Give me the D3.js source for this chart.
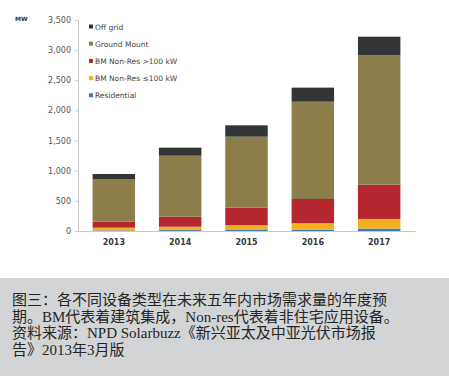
<!DOCTYPE html>
<html>
<head>
<meta charset="utf-8">
<script src="https://cdn.jsdelivr.net/npm/d3@7"></script>
<style>
  body { margin: 0; background: #fff; }
  #wrapper { width: 449px; height: 376px; position: relative; }
  .tick text { font-family: Verdana, "DejaVu Sans", sans-serif; }
</style>
</head>
<body>
<div id="wrapper"></div>
<script>
// data
const years = ['2013', '2014', '2015', '2016', '2017']
const seriesNames = ['Residential', 'BM Non-Res \u2264100 kW', 'BM Non-Res >100 kW', 'Ground Mount', 'Off grid']
const residential = [10, 15, 17, 20, 40]
const nonResSmall = [45, 56, 78, 108, 160]
const nonResLarge = [100, 166, 292, 403, 570]
const groundMount = [705, 1012, 1178, 1614, 2150]
const offGrid = [85, 133, 188, 233, 303]
const yTicks = [0, 500, 1000, 1500, 2000, 2500, 3000, 3500]
const captionLines = [
  '图三：各不同设备类型在未来五年内市场需求量的年度预',
  '期。BM代表着建筑集成，Non-res代表着非住宅应用设备。',
  '资料来源：NPD Solarbuzz《新兴亚太及中亚光伏市场报',
  '告》2013年3月版'
]

const colors = ['#3b79b8', '#f2b01e', '#b5282f', '#8b7e4b', '#323436']

const table = years.map((y, i) => ({
  year: y,
  [seriesNames[0]]: residential[i],
  [seriesNames[1]]: nonResSmall[i],
  [seriesNames[2]]: nonResLarge[i],
  [seriesNames[3]]: groundMount[i],
  [seriesNames[4]]: offGrid[i],
}))

// dimensions
let dimensions = {
  width: 449,
  height: 376,
  margin: { top: 20, left: 78, right: 34 },
  axisBottom: 231,
}
dimensions.boundedWidth = dimensions.width - dimensions.margin.left - dimensions.margin.right
dimensions.boundedHeight = dimensions.axisBottom - dimensions.margin.top

const svg = d3.select('#wrapper').append('svg')
  .attr('width', dimensions.width)
  .attr('height', dimensions.height)

const bounds = svg.append('g')
  .attr('transform', `translate(${dimensions.margin.left},${dimensions.margin.top})`)

// scales
const yScale = d3.scaleLinear()
  .domain([0, 3500])
  .range([dimensions.boundedHeight, 0])

const xScale = d3.scaleBand()
  .domain(years)
  .range([0, dimensions.boundedWidth])
  .paddingInner(0.36)
  .paddingOuter(0.22)

const colorScale = d3.scaleOrdinal().domain(seriesNames).range(colors)

const stacked = d3.stack().keys(seriesNames)(table)

// bars
bounds.selectAll('.series')
  .data(stacked)
  .enter().append('g')
  .attr('class', 'series')
  .attr('fill', d => colorScale(d.key))
  .selectAll('rect')
  .data(d => d)
  .enter().append('rect')
  .attr('x', d => xScale(d.data.year))
  .attr('width', xScale.bandwidth())
  .attr('y', d => yScale(d[1]))
  .attr('height', d => yScale(d[0]) - yScale(d[1]))

// axes
const yAxis = bounds.append('g')
  .call(d3.axisLeft(yScale).tickValues(yTicks).tickFormat(d3.format(',')).tickSize(3).tickPadding(4))
yAxis.select('.domain').attr('stroke', '#c8c8c8')
yAxis.selectAll('.tick line').attr('stroke', '#c8c8c8')
yAxis.selectAll('.tick text').attr('fill', '#555').style('font-size', '8px')

const xAxis = bounds.append('g')
  .attr('transform', `translate(0,${dimensions.boundedHeight})`)
  .call(d3.axisBottom(xScale).tickSize(0).tickPadding(8))
xAxis.select('.domain').attr('stroke', '#c8c8c8')
xAxis.selectAll('.tick text').attr('fill', '#3a3a3a').style('font-size', '8px').style('font-weight', '600')

svg.append('text')
  .attr('x', 15)
  .attr('y', 21)
  .text('MW')
  .style('font-family', 'Verdana, "DejaVu Sans", sans-serif')
  .style('font-size', '6px')
  .style('font-weight', 'bold')
  .attr('fill', '#333')

// legend
const legend = svg.append('g').attr('transform', 'translate(89,27)')
const legendOrder = seriesNames.slice().reverse()
const legendItems = legend.selectAll('g')
  .data(legendOrder)
  .enter().append('g')
  .attr('transform', (d, i) => `translate(0,${i * 17.2})`)
legendItems.append('rect')
  .attr('x', 0).attr('y', -2.5)
  .attr('width', 4).attr('height', 4)
  .attr('fill', d => colorScale(d))
legendItems.append('text')
  .attr('x', 6)
  .attr('y', 0)
  .attr('dy', '0.35em')
  .text(d => d)
  .style('font-family', 'Verdana, "DejaVu Sans", sans-serif')
  .style('font-size', '7.5px')
  .attr('fill', '#444')

// caption
svg.append('rect')
  .attr('x', 0).attr('y', 278)
  .attr('width', dimensions.width).attr('height', 98)
  .attr('fill', '#d3d4d5')

svg.append('g').selectAll('text')
  .data(captionLines)
  .enter().append('text')
  .attr('x', 12)
  .attr('y', (d, i) => 305 + i * 16.7)
  .text(d => d)
  .style('font-family', '"Liberation Serif", "Noto Sans CJK SC", serif')
  .style('font-size', '15px')
  .attr('fill', '#262626')
</script>
</body>
</html>
